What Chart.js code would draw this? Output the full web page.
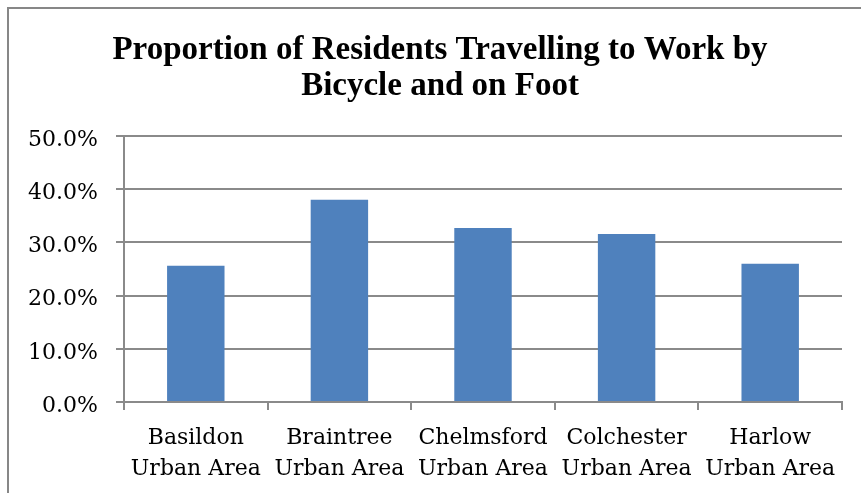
<!DOCTYPE html>
<html>
<head>
<meta charset="utf-8">
<script src="https://cdn.jsdelivr.net/npm/chart.js@4/dist/chart.umd.min.js"></script>
<style>
  html, body { margin: 0; padding: 0; background: #fff; }
  #wrap { width: 861px; height: 493px; position: relative; }
</style>
</head>
<body>
<div id="wrap"><canvas id="travelChart" width="861" height="493"></canvas></div>
<script>
// chart data
const titleLines = ['Proportion of Residents Travelling to Work by', 'Bicycle and on Foot'];
const areas = [
    ['Basildon', 'Urban Area'],
    ['Braintree', 'Urban Area'],
    ['Chelmsford', 'Urban Area'],
    ['Colchester', 'Urban Area'],
    ['Harlow', 'Urban Area']
];
const walkCyclePct = [25.6, 38.0, 32.7, 31.6, 26.0];
const yTicksMin = 0;
const yTicksMax = 50;
const yTicksStep = 10;

const gridGrey = '#8a8a8a';
const tickFont = { family: '"DejaVu Serif", "Liberation Serif", serif', size: 22 };

// plain frame around the chart, only top and left edges are in view
const framePlugin = {
    id: 'frame',
    beforeDraw(chart) {
        const ctx = chart.ctx;
        ctx.save();
        ctx.fillStyle = '#ffffff';
        ctx.fillRect(0, 0, chart.width, chart.height);
        ctx.strokeStyle = '#878787';
        ctx.lineWidth = 2;
        ctx.beginPath();
        ctx.moveTo(8, chart.height);
        ctx.lineTo(8, 8);
        ctx.lineTo(chart.width, 8);
        ctx.stroke();
        ctx.restore();
    }
};

// title sits centred on the framed box, a little right of the canvas centre
const titleShiftPlugin = {
    id: 'titleShift',
    afterLayout(chart) {
        if (chart.titleBlock) {
            chart.titleBlock.left = 38;
        }
    }
};

new Chart(document.getElementById('travelChart').getContext('2d'), {
    type: 'bar',
    data: {
        labels: areas,
        datasets: [{
            label: 'Proportion',
            data: walkCyclePct,
            backgroundColor: '#4f81bd',
            borderWidth: 0,
            barPercentage: 0.4,
            categoryPercentage: 1.0
        }]
    },
    options: {
        responsive: false,
        animation: false,
        layout: { padding: { left: 0, right: 19, top: 0, bottom: 0 } },
        plugins: {
            legend: { display: false },
            tooltip: { enabled: false },
            title: {
                display: true,
                text: titleLines,
                color: '#000',
                font: { family: '"Liberation Serif", serif', size: 33, weight: 'bold', lineHeight: 1.106 },
                padding: { top: 32, bottom: 31 }
            }
        },
        scales: {
            x: {
                grid: {
                    display: true,
                    drawOnChartArea: false,
                    drawTicks: true,
                    tickLength: 8,
                    color: gridGrey,
                    lineWidth: 2
                },
                border: { display: true, color: gridGrey, width: 2 },
                ticks: {
                    color: '#000',
                    font: { ...tickFont, lineHeight: 1.41 },
                    padding: 13,
                    maxRotation: 0,
                    autoSkip: false
                },
                afterFit(scale) { scale.height = 91; }
            },
            y: {
                min: yTicksMin,
                max: yTicksMax,
                grid: {
                    color: gridGrey,
                    lineWidth: 2,
                    tickLength: 8
                },
                border: { display: true, color: gridGrey, width: 2 },
                ticks: {
                    stepSize: yTicksStep,
                    color: '#000',
                    font: tickFont,
                    padding: 18,
                    labelOffset: 4,
                    callback: v => v.toFixed(1) + '%'
                },
                afterFit(scale) { scale.width = 124; }
            }
        }
    },
    plugins: [framePlugin, titleShiftPlugin]
});
</script>
</body>
</html>
